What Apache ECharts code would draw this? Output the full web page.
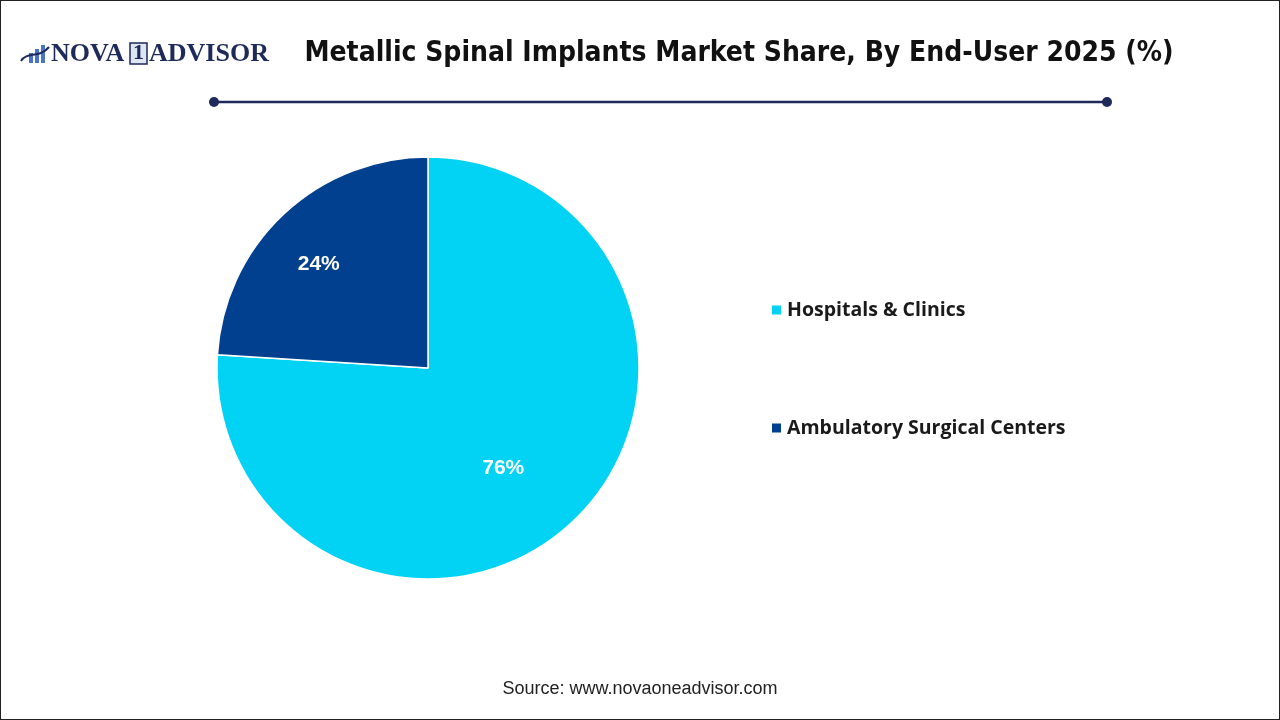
<!DOCTYPE html>
<html>
<head>
<meta charset="utf-8">
<script src="https://cdn.jsdelivr.net/npm/echarts@6/dist/echarts.min.js"></script>
<style>
  html, body { margin: 0; padding: 0; background: #fff; }
  #chart { width: 1280px; height: 720px; box-sizing: border-box; border: 1px solid #222; }
</style>
</head>
<body>
<div id="chart"></div>
<script>
const segments = ['Hospitals & Clinics', 'Ambulatory Surgical Centers'];
const shares = [76, 24];
const colors = ['#02D3F5', '#00408F'];
const labelOffsets = [[1, 21], [-35, -25]];

const el = document.getElementById('chart');
const chart = echarts.init(el, null, { renderer: 'canvas' });

const navy = '#1E2A5A';

chart.setOption({
    animation: false,
    backgroundColor: '#fff',
    title: {
        text: 'Metallic Spinal Implants Market Share, By End-User 2025 (%)',
        left: 733,
        top: 34,
        textAlign: 'center',
        textStyle: { fontFamily: 'DejaVu Sans Condensed', fontWeight: 'bold', fontSize: 28, color: '#111' },
    },
    legend: {
        orient: 'vertical',
        left: 769,
        top: 299,
        padding: 0,
        itemWidth: 11,
        itemHeight: 11,
        itemGap: 98,
        icon: 'rect',
        data: segments,
        textStyle: { fontFamily: 'Open Sans', fontWeight: 'bold', fontSize: 19.5, color: '#1a1a1a' },
    },
    graphic: [
        { type: 'line', shape: { x1: 213, y1: 101, x2: 1106, y2: 101 }, style: { stroke: navy, lineWidth: 2.5 } },
        { type: 'circle', shape: { cx: 213, cy: 101, r: 5 }, style: { fill: navy } },
        { type: 'circle', shape: { cx: 1106, cy: 101, r: 5 }, style: { fill: navy } },
        // logo
        { type: 'rect', shape: { x: 28, y: 52, width: 4, height: 10 }, style: { fill: '#4a74c9' } },
        { type: 'rect', shape: { x: 34, y: 48, width: 4, height: 14 }, style: { fill: '#4a74c9' } },
        { type: 'rect', shape: { x: 40, y: 44, width: 4, height: 18 }, style: { fill: '#4a74c9' } },
        { type: 'bezierCurve', shape: { x1: 20, y1: 60, x2: 48, y2: 46, cpx1: 26, cpy1: 50, cpx2: 38, cpy2: 58 }, style: { stroke: navy, lineWidth: 2, fill: null } },
        { type: 'text', left: 50, top: 40, style: { text: 'NOVA', fontFamily: 'Liberation Serif', fontWeight: 'bold', fontSize: 26, fill: navy } },
        { type: 'rect', shape: { x: 129, y: 42, width: 17, height: 21 }, style: { fill: '#dfe6f3', stroke: navy, lineWidth: 1.5 } },
        { type: 'text', left: 132, top: 41, style: { text: '1', fontFamily: 'Liberation Serif', fontWeight: 'bold', fontSize: 22, fill: navy } },
        { type: 'text', left: 148, top: 40, style: { text: 'ADVISOR', fontFamily: 'Liberation Serif', fontWeight: 'bold', fontSize: 26, fill: navy } },
        { type: 'text', left: 'center', top: 679, style: { text: 'Source: www.novaoneadvisor.com', fontFamily: 'Liberation Sans', fontSize: 18, fill: '#222' } },
    ],
    series: [
        {
            type: 'pie',
            center: [427, 367],
            radius: [0, 211],
            startAngle: 90,
            clockwise: true,
            legendHoverLink: false,
            itemStyle: { borderColor: '#fff', borderWidth: 1.5 },
            label: {
                position: 'inside',
                formatter: '{c}%',
                color: '#fff',
                fontFamily: 'Liberation Sans',
                fontWeight: 'bold',
                fontSize: 21,
            },
            labelLine: { show: false },
            data: segments.map((name, i) => ({
                name,
                value: shares[i],
                itemStyle: { color: colors[i] },
                label: { offset: labelOffsets[i] },
            })),
        },
    ],
});
</script>
</body>
</html>
